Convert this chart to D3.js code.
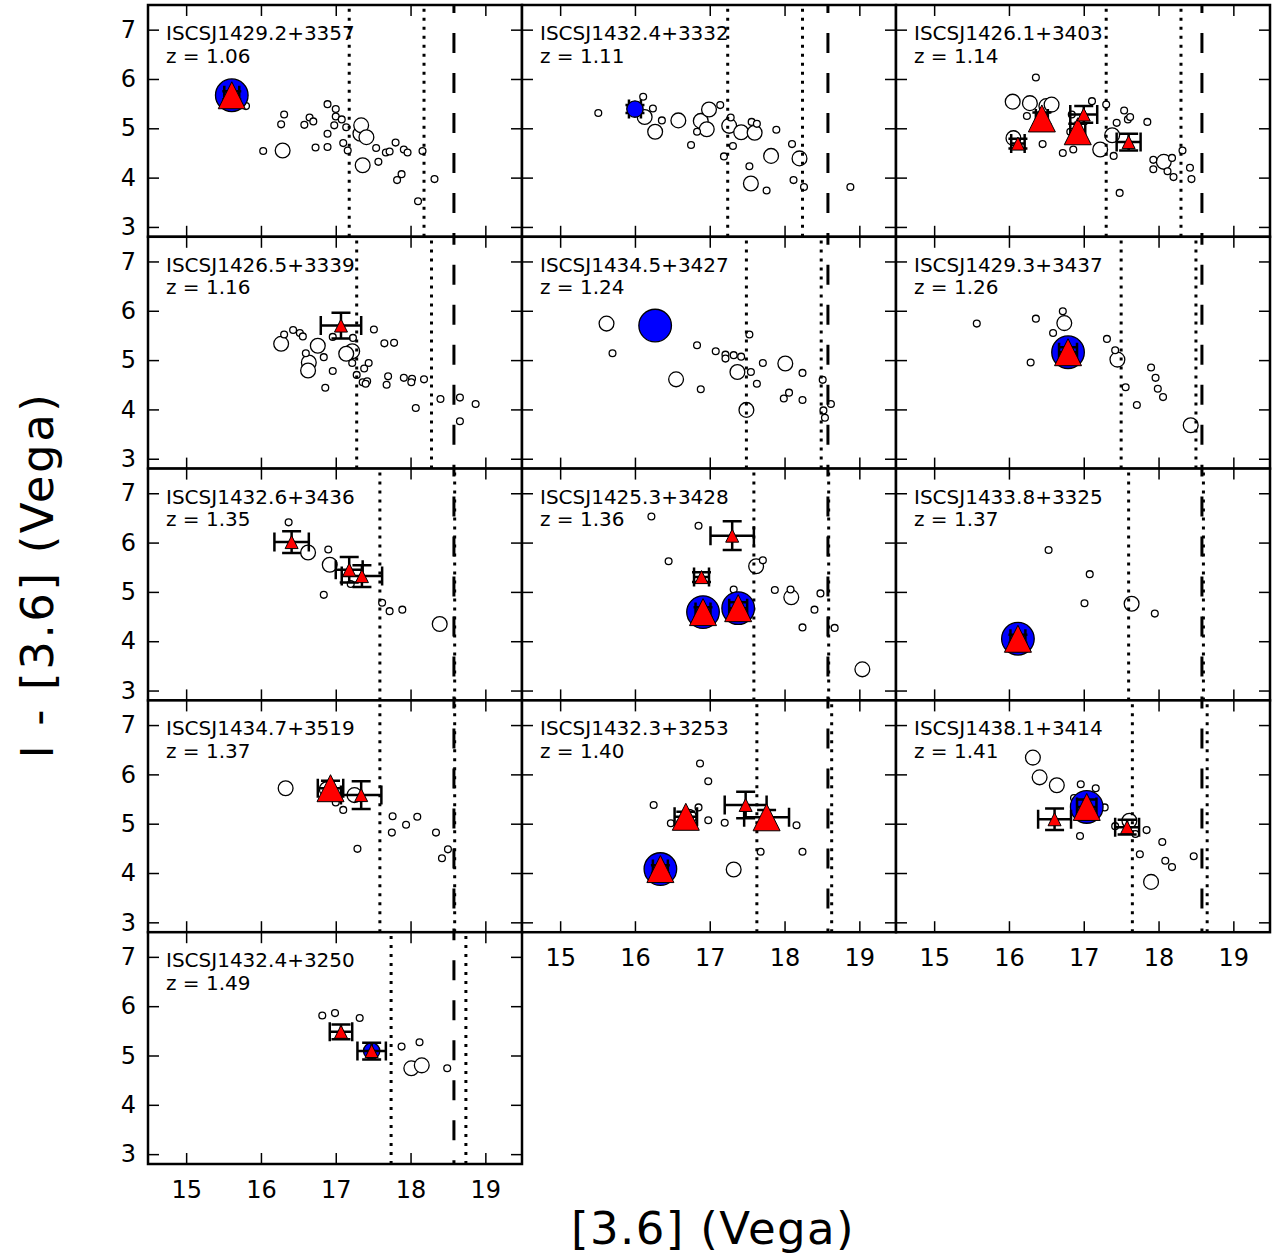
<!DOCTYPE html>
<html>
<head>
<meta charset="utf-8">
<script src="https://cdn.jsdelivr.net/npm/d3@7"></script>
<style>
  html, body { margin: 0; padding: 0; background: #fff; }
  svg { display: block; font-family: "DejaVu Sans", sans-serif; }
</style>
</head>
<body>
<svg id="chart" width="1275" height="1258"></svg>
<script>
// ---------------- DATA ----------------
const clusterNames = ["ISCSJ1429.2+3357","ISCSJ1432.4+3332","ISCSJ1426.1+3403","ISCSJ1426.5+3339","ISCSJ1434.5+3427","ISCSJ1429.3+3437","ISCSJ1432.6+3436","ISCSJ1425.3+3428","ISCSJ1433.8+3325","ISCSJ1434.7+3519","ISCSJ1432.3+3253","ISCSJ1438.1+3414","ISCSJ1432.4+3250"];
const redshifts = ["1.06","1.11","1.14","1.16","1.24","1.26","1.35","1.36","1.37","1.37","1.40","1.41","1.49"];
// m* position (first dotted line); second dotted line at m*+1
const mStar = [17.18,17.24,17.30,17.28,17.49,17.50,17.59,17.59,17.60,17.59,17.63,17.65,17.74];
const completenessLimit = 18.58;
const xTicks = [15,16,17,18,19];
const yTicks = [3,4,5,6,7];

// small open circles [mag, colour]
const smallOpen = [
  [[15.80,5.45],[16.31,5.28],[16.27,5.08],[16.89,5.49],[17.00,5.39],[16.65,5.22],[16.70,5.14],[16.58,5.07],[17.00,5.24],[17.08,5.18],[16.98,5.06],[17.14,5.02],[16.89,4.89],[17.10,4.70],[17.16,4.55],[16.89,4.62],[16.73,4.61],[16.03,4.54],[17.54,4.60],[17.57,4.32],[17.67,4.51],[17.72,4.53],[17.80,4.71],[17.91,4.57],[17.96,4.51],[18.16,4.54],[17.88,4.07],[17.82,3.95],[18.32,3.97],[18.10,3.52]],
  [[15.51,5.31],[16.11,5.64],[16.24,5.40],[16.36,5.16],[16.75,4.66],[16.83,4.93],[17.14,5.47],[17.28,5.22],[17.56,5.13],[17.63,5.09],[17.89,4.97],[18.10,4.68],[17.31,4.64],[17.19,4.43],[17.53,4.23],[17.76,3.74],[18.12,3.95],[18.26,3.81],[18.88,3.81]],
  [[16.36,6.03],[16.24,5.25],[16.45,4.68],[16.72,4.50],[16.86,4.57],[17.11,5.55],[17.30,5.48],[17.54,5.36],[17.44,5.11],[17.59,5.18],[17.62,5.23],[17.85,5.13],[16.84,5.28],[16.82,4.93],[17.40,4.44],[17.48,3.69],[17.93,4.36],[18.18,4.40],[17.93,4.17],[18.12,4.13],[18.20,4.01],[18.32,4.55],[18.42,4.20],[18.44,3.97]],
  [[16.31,5.52],[16.43,5.61],[16.52,5.55],[16.56,5.48],[16.96,5.47],[17.23,5.45],[17.51,5.62],[17.65,5.34],[17.78,5.35],[16.60,5.14],[16.84,5.06],[17.22,4.94],[17.44,4.94],[17.38,4.83],[16.96,4.78],[17.28,4.70],[17.36,4.55],[17.42,4.57],[17.40,4.52],[17.70,4.67],[17.68,4.50],[17.91,4.64],[18.02,4.62],[18.01,4.55],[18.18,4.61],[16.86,4.44],[18.07,4.03],[18.40,4.21],[18.66,4.24],[18.87,4.11],[18.66,3.76]],
  [[15.70,5.14],[16.83,5.30],[17.08,5.18],[17.21,5.11],[17.21,5.03],[17.32,5.10],[17.42,5.07],[17.53,5.52],[17.55,4.76],[17.71,4.94],[17.63,4.52],[16.88,4.41],[18.24,4.74],[18.06,4.34],[17.99,4.22],[18.24,4.19],[18.51,4.60],[18.62,4.11],[18.52,3.98],[18.54,3.83]],
  [[15.57,5.74],[16.36,5.84],[16.72,5.99],[16.59,5.55],[16.29,4.95],[17.31,5.43],[17.42,5.20],[17.56,4.45],[17.71,4.09],[17.90,4.85],[17.96,4.64],[17.99,4.42],[18.06,4.25]],
  [[16.37,6.41],[16.90,5.86],[16.84,4.94],[17.20,5.16],[17.62,4.78],[17.72,4.61],[17.89,4.64]],
  [[16.22,6.53],[16.85,6.34],[16.45,5.62],[17.71,5.64],[17.32,5.05],[17.87,5.04],[18.08,5.05],[18.48,4.97],[18.40,4.64],[18.24,4.28],[18.67,4.27]],
  [[16.53,5.85],[17.08,5.36],[17.01,4.77],[17.95,4.56]],
  [[17.00,5.43],[17.10,5.28],[17.29,4.49],[17.76,5.15],[17.75,4.82],[17.94,4.98],[18.09,5.14],[18.34,4.82],[18.50,4.48],[18.42,4.30]],
  [[16.25,5.38],[16.87,6.22],[16.98,5.86],[16.85,5.33],[16.98,5.07],[16.48,5.01],[17.20,5.02],[17.68,4.43],[18.16,4.97],[18.24,4.43]],
  [[16.96,5.80],[17.16,5.72],[16.87,5.52],[17.28,5.33],[17.42,4.95],[17.69,4.79],[17.84,4.87],[16.95,4.75],[18.05,4.63],[17.75,4.38],[18.09,4.25],[18.18,4.12],[18.47,4.34]],
  [[16.82,5.81],[16.99,5.86],[17.32,5.76],[17.88,5.18],[18.12,5.27],[18.49,4.74]]
];

// large open circles [mag, colour]
const largeOpen = [
  [[16.29,4.55],[17.33,4.89],[17.34,5.06],[17.41,4.82],[17.36,4.25]],
  [[16.13,5.23],[16.27,4.93],[16.58,5.16],[16.88,5.15],[16.99,5.38],[16.96,4.98],[17.26,5.05],[17.42,4.92],[17.60,4.91],[17.82,4.44],[18.20,4.39],[17.55,3.88]],
  [[16.05,5.54],[16.28,5.51],[16.50,5.45],[16.57,5.48],[16.06,4.80],[17.38,4.86],[17.22,4.57],[18.07,4.32]],
  [[16.27,5.33],[16.76,5.29],[16.64,4.95],[16.63,4.79],[17.22,5.18],[17.14,5.13]],
  [[15.62,5.74],[16.55,4.61],[17.37,4.76],[18.01,4.93],[17.49,3.99]],
  [[16.74,5.75],[17.45,5.01],[18.43,3.68]],
  [[16.63,5.80],[16.92,5.55],[18.39,4.35]],
  [[17.62,5.52],[18.09,4.89],[19.04,3.43]],
  [[17.64,4.76]],
  [[16.33,5.72],[16.88,5.70],[17.25,5.58]],
  [[17.32,4.07],[16.72,5.14]],
  [[16.32,6.34],[16.41,5.94],[16.64,5.78],[17.61,5.06],[17.90,3.82]],
  [[18.01,4.74],[18.15,4.80]]
];

// blue filled circles [mag, colour, xerr, yerr]
const blueLarge = [
  [[15.61,5.67,0,0]], [], [], [], [[16.27,5.70,0,0]], [[16.79,5.16,0,0]], [],
  [[16.91,4.59,0,0],[17.38,4.67,0,0]], [[16.12,4.05,0,0]], [], [[16.34,4.08,0,0]], [[17.04,5.34,0,0]], []
];
const blueSmall = [
  [], [[16.00,5.39,0.08,0.08]], [], [], [], [], [], [], [], [], [], [], [[17.48,5.09,0,0]]
];

// red triangles [mag, colour, xerr, yerr]
const triLarge = [
  [[15.61,5.67,0.10,0.08]], [], [[16.44,5.20,0.08,0.12],[16.92,4.94,0.10,0.15]], [], [],
  [[16.79,5.16,0.12,0.10]], [], [[16.91,4.59,0.10,0.10],[17.38,4.67,0.12,0.12]],
  [[16.12,4.05,0.10,0.08]], [[16.93,5.72,0.17,0.15]],
  [[16.34,4.08,0.10,0.08],[16.68,5.14,0.15,0.10],[17.76,5.13,0.30,0.15]],
  [[17.04,5.34,0.13,0.15]], []
];
const triSmall = [
  [], [], [[16.12,4.69,0.09,0.10],[17.00,5.28,0.18,0.17],[17.60,4.72,0.16,0.17]],
  [[17.07,5.70,0.27,0.26]], [], [],
  [[16.41,6.01,0.23,0.22],[17.18,5.45,0.18,0.26],[17.35,5.32,0.27,0.22]],
  [[17.30,6.14,0.29,0.29],[16.89,5.30,0.10,0.10]], [],
  [[17.34,5.58,0.27,0.28]], [[17.48,5.38,0.28,0.27]],
  [[16.61,5.09,0.22,0.22],[17.58,4.93,0.16,0.15]],
  [[17.07,5.48,0.15,0.15],[17.48,5.09,0.19,0.17]]
];

// ---------------- LAYOUT ----------------
const L = 148, T = 5, PW = 374, PH = 231.8;
const xDomain = [14.49, 19.49], yDomain = [2.8, 7.5];
const svg = d3.select("#chart");
svg.append("rect").attr("width",1275).attr("height",1258).attr("fill","#fff");

const bottomLabelled = [10, 11, 12];

clusterNames.forEach((name, i) => {
  const row = Math.floor(i / 3), col = i % 3;
  const px = L + col * PW, py = T + row * PH;
  const x = d3.scaleLinear().domain(xDomain).range([px, px + PW]);
  const y = d3.scaleLinear().domain(yDomain).range([py + PH, py]);
  const g = svg.append("g");

  const clipId = "clip" + i;
  svg.append("clipPath").attr("id", clipId).append("rect")
    .attr("x", px).attr("y", py).attr("width", PW).attr("height", PH);
  const pg = g.append("g").attr("clip-path", `url(#${clipId})`);

  pg.append("rect").attr("x", px).attr("y", py).attr("width", PW).attr("height", PH).attr("fill", "#fff");

  // open circles
  pg.selectAll(".lo").data(largeOpen[i]).enter().append("circle")
    .attr("cx", d => x(d[0])).attr("cy", d => y(d[1])).attr("r", 7.4)
    .attr("fill", "#fff").attr("stroke", "#000").attr("stroke-width", 1.3);
  pg.selectAll(".so").data(smallOpen[i]).enter().append("circle")
    .attr("cx", d => x(d[0])).attr("cy", d => y(d[1])).attr("r", 3.4)
    .attr("fill", "#fff").attr("stroke", "#000").attr("stroke-width", 1.3);

  // limit lines
  [mStar[i], mStar[i] + 1].forEach(m => {
    pg.append("line").attr("x1", x(m)).attr("x2", x(m)).attr("y1", py + PH).attr("y2", py)
      .attr("stroke", "#000").attr("stroke-width", 3).attr("stroke-dasharray", "3,6");
  });
  pg.append("line").attr("x1", x(completenessLimit)).attr("x2", x(completenessLimit))
    .attr("y1", py).attr("y2", py + PH)
    .attr("stroke", "#000").attr("stroke-width", 3).attr("stroke-dasharray", "20,20").attr("stroke-dashoffset", 12);

  const cap = 9.5;
  const drawErr = list => list.filter(d => d[2] > 0 || d[3] > 0).forEach(d => {
    const cx = x(d[0]), cy = y(d[1]);
    const xl = x(d[0] - d[2]), xr = x(d[0] + d[2]);
    const yt = y(d[1] + d[3]), yb = y(d[1] - d[3]);
    const path = `M${xl},${cy}H${xr}M${cx},${yt}V${yb}` +
      `M${xl},${cy - cap}V${cy + cap}M${xr},${cy - cap}V${cy + cap}` +
      `M${cx - cap},${yt}H${cx + cap}M${cx - cap},${yb}H${cx + cap}`;
    pg.append("path").attr("d", path).attr("fill", "none").attr("stroke", "#000").attr("stroke-width", 2.5);
  });

  // blue circles (own error bars underneath)
  drawErr(blueSmall[i]);
  pg.selectAll(".bl").data(blueLarge[i]).enter().append("circle")
    .attr("cx", d => x(d[0])).attr("cy", d => y(d[1])).attr("r", 16.3)
    .attr("fill", "#0000ff").attr("stroke", "#000").attr("stroke-width", 1.3);
  pg.selectAll(".bs").data(blueSmall[i]).enter().append("circle")
    .attr("cx", d => x(d[0])).attr("cy", d => y(d[1])).attr("r", 8.2)
    .attr("fill", "#0000ff").attr("stroke", "#000").attr("stroke-width", 1.3);

  // triangle error bars
  drawErr([].concat(triLarge[i], triSmall[i]));

  // triangles
  const tri = s => `M0,${-s/2}L${s/2},${s/2}L${-s/2},${s/2}Z`;
  pg.selectAll(".tl").data(triLarge[i]).enter().append("path")
    .attr("d", tri(27)).attr("transform", d => `translate(${x(d[0])},${y(d[1])})`)
    .attr("fill", "#ff0000").attr("stroke", "#000").attr("stroke-width", 1);
  pg.selectAll(".ts").data(triSmall[i]).enter().append("path")
    .attr("d", tri(13)).attr("transform", d => `translate(${x(d[0])},${y(d[1])})`)
    .attr("fill", "#ff0000").attr("stroke", "#000").attr("stroke-width", 1);

  // panel text
  g.append("text").attr("x", px + 18).attr("y", py + 35).attr("font-size", 20).text(name);
  g.append("text").attr("x", px + 18).attr("y", py + 57.5).attr("font-size", 20).text("z = " + redshifts[i]);

  // axes (inward ticks)
  const styleAxis = sel => {
    sel.select(".domain").remove();
    sel.selectAll(".tick line").attr("stroke", "#000").attr("stroke-width", 1.5);
    sel.selectAll(".tick text").attr("fill", "#000").attr("font-family", "DejaVu Sans").attr("font-size", 24);
  };
  const labelBottom = bottomLabelled.includes(i);
  g.append("g").attr("transform", `translate(0,${py + PH})`)
    .call(d3.axisBottom(x).tickValues(xTicks).tickSize(-11).tickPadding(17).tickFormat(labelBottom ? d3.format("d") : () => ""))
    .call(styleAxis);
  g.append("g").attr("transform", `translate(0,${py})`)
    .call(d3.axisTop(x).tickValues(xTicks).tickSize(-11).tickFormat(() => "")).call(styleAxis);
  g.append("g").attr("transform", `translate(${px},0)`)
    .call(d3.axisLeft(y).tickValues(yTicks).tickSize(-11).tickPadding(12).tickFormat(col === 0 ? d3.format("d") : () => ""))
    .call(styleAxis);
  g.append("g").attr("transform", `translate(${px + PW},0)`)
    .call(d3.axisRight(y).tickValues(yTicks).tickSize(-11).tickFormat(() => "")).call(styleAxis);

  g.append("rect").attr("x", px).attr("y", py).attr("width", PW).attr("height", PH)
    .attr("fill", "none").attr("stroke", "#000").attr("stroke-width", 2.5);
});

// axis titles
svg.append("text").attr("x", 713).attr("y", 1244).attr("text-anchor", "middle")
  .attr("font-size", 45).attr("letter-spacing", 1.4).text("[3.6] (Vega)");
svg.append("text").attr("transform", "translate(37,575) rotate(-90)").attr("text-anchor", "middle")
  .attr("dominant-baseline", "central").attr("font-size", 45).attr("letter-spacing", 2.6).text("I - [3.6] (Vega)");
</script>
</body>
</html>
